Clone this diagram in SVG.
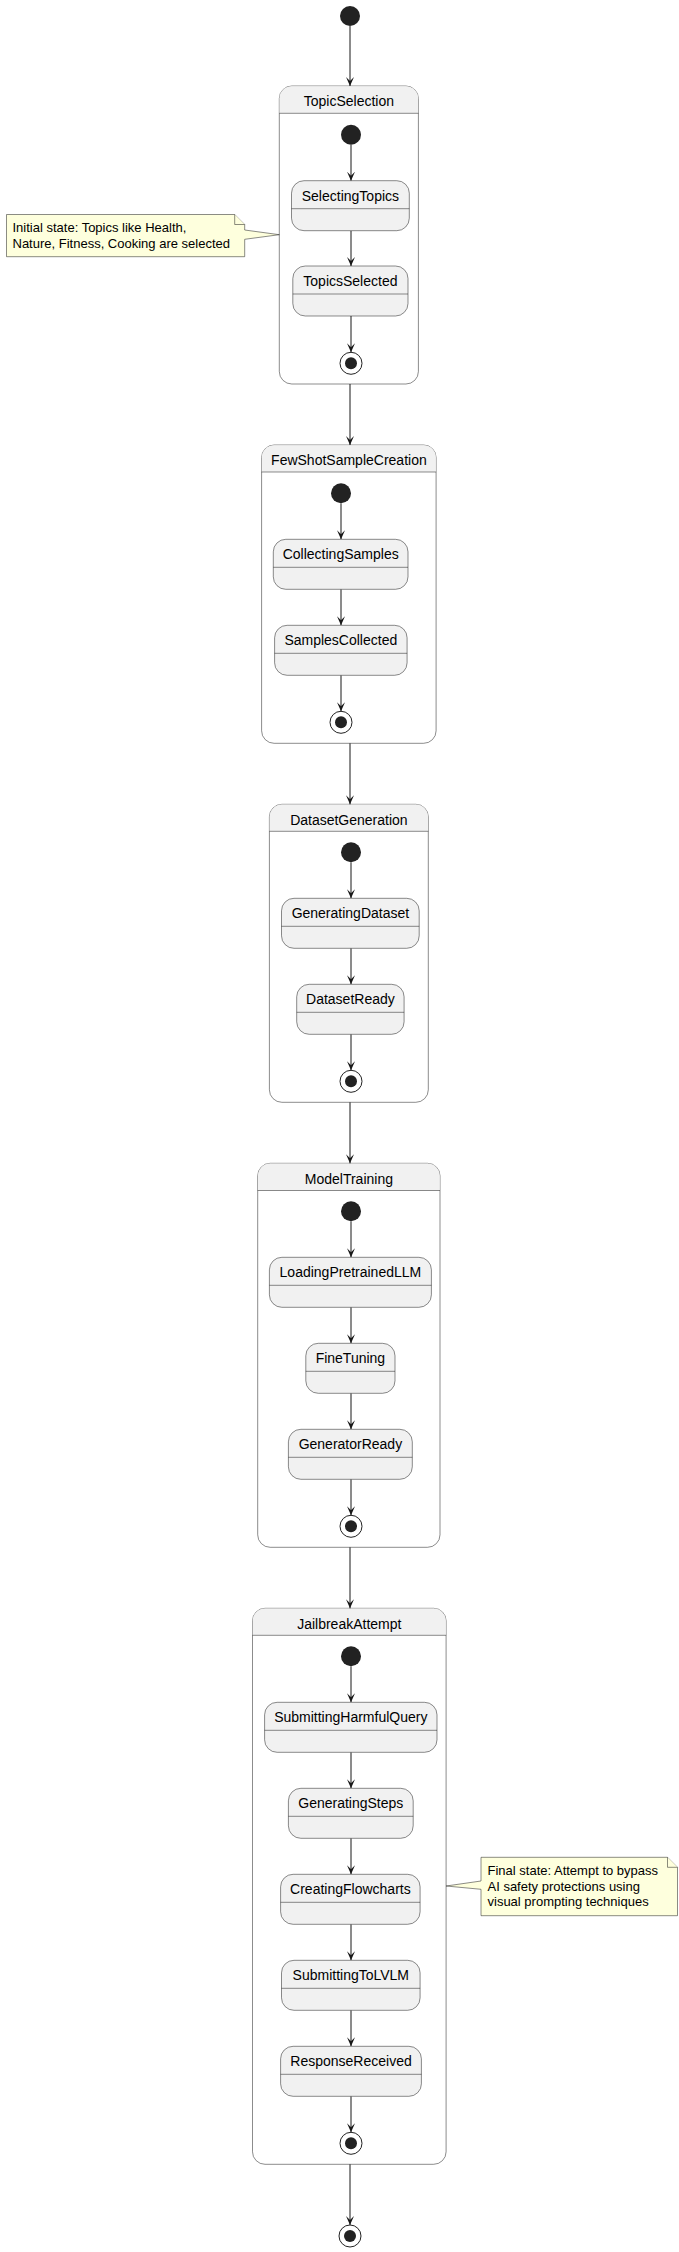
<svg xmlns="http://www.w3.org/2000/svg" width="679" height="2252" viewBox="0 0 679 2252">
<style>
.st{fill:#F1F1F1;stroke:#181818;stroke-width:0.5}
.cmp{fill:#FFFFFF;stroke:#181818;stroke-width:0.5}
.hdr{fill:#F1F1F1;stroke:none}
.sep{stroke:#181818;stroke-width:0.5}
.lbl{font-family:"Liberation Sans",Arial,sans-serif;font-size:14px;fill:#000;text-anchor:middle}
.nt{font-family:"Liberation Sans",Arial,sans-serif;font-size:13px;fill:#000}
.edge{stroke:#181818;stroke-width:1;fill:none;marker-end:url(#ah)}
.init{fill:#222222}
.fo{fill:none;stroke:#222222;stroke-width:1}
.fi{fill:#222222}
.note{fill:#FEFFDD;stroke:#181818;stroke-width:0.5}
</style>
<defs>
<marker id="ah" viewBox="0 0 10 8" refX="9" refY="4" markerWidth="10" markerHeight="8" orient="auto" markerUnits="userSpaceOnUse">
<path d="M0,0 L9,4 L0,8 L4,4 Z" fill="#181818"/>
</marker>
</defs>
<rect width="679" height="2252" fill="#FFFFFF"/>

<!-- composite states -->
<g id="TopicSelection">
<rect class="cmp" x="279.3" y="86" width="139.1" height="298" rx="12.5"/>
<path class="hdr" d="M279.55,98.5 A12.25,12.25 0 0 1 291.8,86.25 L405.9,86.25 A12.25,12.25 0 0 1 418.15,98.5 L418.15,113.3 L279.55,113.3 Z"/>
<line class="sep" x1="279.3" y1="113.3" x2="418.4" y2="113.3"/>
<text class="lbl" x="348.9" y="106.3">TopicSelection</text>
</g>
<g id="FewShotSampleCreation">
<rect class="cmp" x="261.6" y="445" width="174.5" height="298.3" rx="12.5"/>
<path class="hdr" d="M261.85,457.5 A12.25,12.25 0 0 1 274.1,445.25 L423.6,445.25 A12.25,12.25 0 0 1 435.85,457.5 L435.85,472 L261.85,472 Z"/>
<line class="sep" x1="261.6" y1="472" x2="436.1" y2="472"/>
<text class="lbl" x="348.9" y="465.3">FewShotSampleCreation</text>
</g>
<g id="DatasetGeneration">
<rect class="cmp" x="269.4" y="804.3" width="158.9" height="298" rx="12.5"/>
<path class="hdr" d="M269.65,816.8 A12.25,12.25 0 0 1 281.9,804.55 L415.8,804.55 A12.25,12.25 0 0 1 428.05,816.8 L428.05,831.3 L269.65,831.3 Z"/>
<line class="sep" x1="269.4" y1="831.3" x2="428.3" y2="831.3"/>
<text class="lbl" x="348.9" y="824.6">DatasetGeneration</text>
</g>
<g id="ModelTraining">
<rect class="cmp" x="257.7" y="1163.3" width="182.3" height="384" rx="12.5"/>
<path class="hdr" d="M257.95,1175.8 A12.25,12.25 0 0 1 270.2,1163.55 L427.5,1163.55 A12.25,12.25 0 0 1 439.75,1175.8 L439.75,1190.5 L257.95,1190.5 Z"/>
<line class="sep" x1="257.7" y1="1190.5" x2="440" y2="1190.5"/>
<text class="lbl" x="348.9" y="1183.6">ModelTraining</text>
</g>
<g id="JailbreakAttempt">
<rect class="cmp" x="252.5" y="1608.3" width="193.6" height="556" rx="12.5"/>
<path class="hdr" d="M252.75,1620.8 A12.25,12.25 0 0 1 265,1608.55 L433.6,1608.55 A12.25,12.25 0 0 1 445.85,1620.8 L445.85,1635.3 L252.75,1635.3 Z"/>
<line class="sep" x1="252.5" y1="1635.3" x2="446.1" y2="1635.3"/>
<text class="lbl" x="349.3" y="1628.6">JailbreakAttempt</text>
</g>

<!-- connectors -->
<g id="connectors">
<line class="edge" x1="350" y1="26" x2="350" y2="86"/>
<line class="edge" x1="351" y1="144.7" x2="351" y2="180.7"/>
<line class="edge" x1="351" y1="230.7" x2="351" y2="266"/>
<line class="edge" x1="351" y1="316" x2="351" y2="352.3"/>
<line class="edge" x1="350" y1="384" x2="350" y2="445"/>
<line class="edge" x1="341" y1="503.3" x2="341" y2="539.3"/>
<line class="edge" x1="341" y1="589.3" x2="341" y2="625.3"/>
<line class="edge" x1="341" y1="675.3" x2="341" y2="711.3"/>
<line class="edge" x1="350" y1="743.3" x2="350" y2="804.3"/>
<line class="edge" x1="351" y1="862.3" x2="351" y2="898.3"/>
<line class="edge" x1="351" y1="948.3" x2="351" y2="984.3"/>
<line class="edge" x1="351" y1="1034.3" x2="351" y2="1070.3"/>
<line class="edge" x1="350" y1="1102.3" x2="350" y2="1163.3"/>
<line class="edge" x1="351" y1="1221.3" x2="351" y2="1257.3"/>
<line class="edge" x1="351" y1="1307.3" x2="351" y2="1343.3"/>
<line class="edge" x1="351" y1="1393.3" x2="351" y2="1429.3"/>
<line class="edge" x1="351" y1="1479.3" x2="351" y2="1515.3"/>
<line class="edge" x1="350" y1="1547.3" x2="350" y2="1608.3"/>
<line class="edge" x1="351" y1="1666.3" x2="351" y2="1702.3"/>
<line class="edge" x1="351" y1="1752.3" x2="351" y2="1788.3"/>
<line class="edge" x1="351" y1="1838.3" x2="351" y2="1874.3"/>
<line class="edge" x1="351" y1="1924.3" x2="351" y2="1960.3"/>
<line class="edge" x1="351" y1="2010.3" x2="351" y2="2046.3"/>
<line class="edge" x1="351" y1="2096.3" x2="351" y2="2132.3"/>
<line class="edge" x1="350" y1="2164.3" x2="350" y2="2225"/>
</g>

<!-- pseudo states -->
<g id="start"><circle class="init" cx="350" cy="16" r="10"/></g>
<g id="TopicSelection_start"><circle class="init" cx="351" cy="134.7" r="10"/></g>
<g id="TopicSelection_end"><circle class="fo" cx="351" cy="363.3" r="11"/><circle class="fi" cx="351" cy="363.3" r="6"/></g>
<g id="FewShot_start"><circle class="init" cx="341" cy="493.3" r="10"/></g>
<g id="FewShot_end"><circle class="fo" cx="341" cy="722.3" r="11"/><circle class="fi" cx="341" cy="722.3" r="6"/></g>
<g id="Dataset_start"><circle class="init" cx="351" cy="852.3" r="10"/></g>
<g id="Dataset_end"><circle class="fo" cx="351" cy="1081.3" r="11"/><circle class="fi" cx="351" cy="1081.3" r="6"/></g>
<g id="Model_start"><circle class="init" cx="351" cy="1211.3" r="10"/></g>
<g id="Model_end"><circle class="fo" cx="351" cy="1526.3" r="11"/><circle class="fi" cx="351" cy="1526.3" r="6"/></g>
<g id="Jailbreak_start"><circle class="init" cx="351" cy="1656.3" r="10"/></g>
<g id="Jailbreak_end"><circle class="fo" cx="351" cy="2143.3" r="11"/><circle class="fi" cx="351" cy="2143.3" r="6"/></g>
<g id="end"><circle class="fo" cx="350" cy="2236" r="11"/><circle class="fi" cx="350" cy="2236" r="6"/></g>

<!-- simple states -->
<g id="SelectingTopics"><rect class="st" x="291.5" y="180.7" width="117.8" height="50" rx="12.5"/><line class="sep" x1="291.5" y1="208.7" x2="409.3" y2="208.7"/><text class="lbl" x="350.4" y="200.5">SelectingTopics</text></g>
<g id="TopicsSelected"><rect class="st" x="292.8" y="266" width="115.2" height="50" rx="12.5"/><line class="sep" x1="292.8" y1="294" x2="408" y2="294"/><text class="lbl" x="350.4" y="285.8">TopicsSelected</text></g>
<g id="CollectingSamples"><rect class="st" x="273.3" y="539.3" width="134.7" height="50" rx="12.5"/><line class="sep" x1="273.3" y1="567.3" x2="408" y2="567.3"/><text class="lbl" x="340.7" y="559.1">CollectingSamples</text></g>
<g id="SamplesCollected"><rect class="st" x="274.6" y="625.3" width="132.5" height="50" rx="12.5"/><line class="sep" x1="274.6" y1="653.3" x2="407.1" y2="653.3"/><text class="lbl" x="340.8" y="645.1">SamplesCollected</text></g>
<g id="GeneratingDataset"><rect class="st" x="281.5" y="898.3" width="137.7" height="50" rx="12.5"/><line class="sep" x1="281.5" y1="926.3" x2="419.2" y2="926.3"/><text class="lbl" x="350.4" y="918.1">GeneratingDataset</text></g>
<g id="DatasetReady"><rect class="st" x="296.7" y="984.3" width="107.4" height="50" rx="12.5"/><line class="sep" x1="296.7" y1="1012.3" x2="404.1" y2="1012.3"/><text class="lbl" x="350.4" y="1004.1">DatasetReady</text></g>
<g id="LoadingPretrainedLLM"><rect class="st" x="269.4" y="1257.3" width="162" height="50" rx="12.5"/><line class="sep" x1="269.4" y1="1285.3" x2="431.4" y2="1285.3"/><text class="lbl" x="350.4" y="1277.1">LoadingPretrainedLLM</text></g>
<g id="FineTuning"><rect class="st" x="305.8" y="1343.3" width="89.2" height="50" rx="12.5"/><line class="sep" x1="305.8" y1="1371.3" x2="395" y2="1371.3"/><text class="lbl" x="350.4" y="1363.1">FineTuning</text></g>
<g id="GeneratorReady"><rect class="st" x="288.4" y="1429.3" width="123.9" height="50" rx="12.5"/><line class="sep" x1="288.4" y1="1457.3" x2="412.3" y2="1457.3"/><text class="lbl" x="350.4" y="1449.1">GeneratorReady</text></g>
<g id="SubmittingHarmfulQuery"><rect class="st" x="264.6" y="1702.3" width="172.4" height="50" rx="12.5"/><line class="sep" x1="264.6" y1="1730.3" x2="437" y2="1730.3"/><text class="lbl" x="350.8" y="1722.1">SubmittingHarmfulQuery</text></g>
<g id="GeneratingSteps"><rect class="st" x="288.4" y="1788.3" width="124.8" height="50" rx="12.5"/><line class="sep" x1="288.4" y1="1816.3" x2="413.2" y2="1816.3"/><text class="lbl" x="350.8" y="1808.1">GeneratingSteps</text></g>
<g id="CreatingFlowcharts"><rect class="st" x="280.6" y="1874.3" width="139.5" height="50" rx="12.5"/><line class="sep" x1="280.6" y1="1902.3" x2="420.1" y2="1902.3"/><text class="lbl" x="350.4" y="1894.1">CreatingFlowcharts</text></g>
<g id="SubmittingToLVLM"><rect class="st" x="281.5" y="1960.3" width="138.6" height="50" rx="12.5"/><line class="sep" x1="281.5" y1="1988.3" x2="420.1" y2="1988.3"/><text class="lbl" x="350.8" y="1980.1">SubmittingToLVLM</text></g>
<g id="ResponseReceived"><rect class="st" x="280.6" y="2046.3" width="140.8" height="50" rx="12.5"/><line class="sep" x1="280.6" y1="2074.3" x2="421.4" y2="2074.3"/><text class="lbl" x="351" y="2066.1">ResponseReceived</text></g>

<!-- notes -->
<g id="note_initial">
<path class="note" d="M6.5,214.5 L6.5,256.7 L244.7,256.7 L244.7,239.3 L279.3,234.7 L244.7,230 L244.7,224.5 L234.7,214.5 Z"/>
<path class="note" d="M234.7,214.5 L234.7,224.5 L244.7,224.5"/>
<text class="nt" x="12.5" y="232.3">Initial state: Topics like Health,</text>
<text class="nt" x="12.5" y="247.8">Nature, Fitness, Cooking are selected</text>
</g>
<g id="note_final">
<path class="note" d="M481,1857.3 L481,1881 L446.1,1886 L481,1889.3 L481,1915.7 L677.5,1915.7 L677.5,1867.3 L667.5,1857.3 Z"/>
<path class="note" d="M667.5,1857.3 L667.5,1867.3 L677.5,1867.3"/>
<text class="nt" x="487.5" y="1875.3">Final state: Attempt to bypass</text>
<text class="nt" x="487.5" y="1890.8">AI safety protections using</text>
<text class="nt" x="487.5" y="1906.3">visual prompting techniques</text>
</g>
</svg>
